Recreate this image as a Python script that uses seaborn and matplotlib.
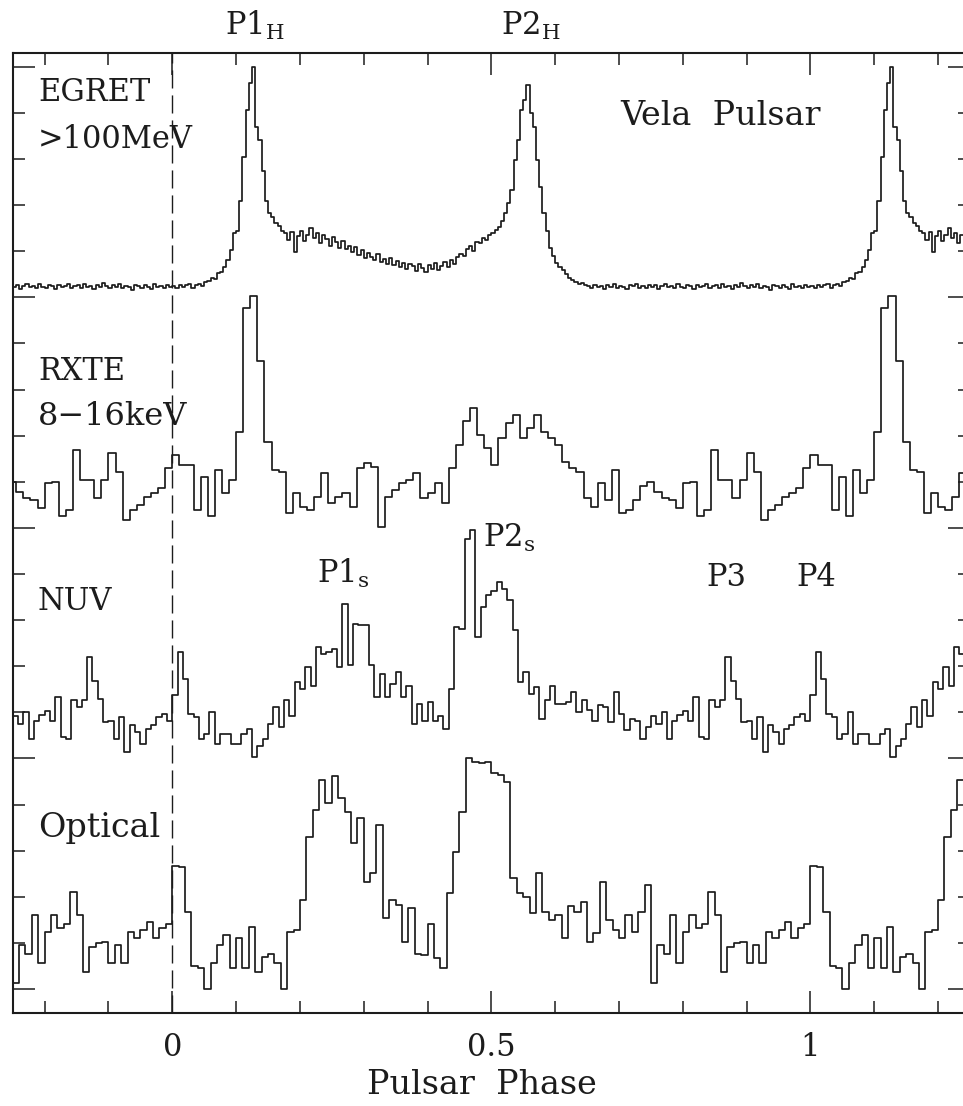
import numpy as np
import pandas as pd
import matplotlib
matplotlib.use("Agg")
import matplotlib.pyplot as plt
from matplotlib.ticker import MultipleLocator, FixedLocator, FixedFormatter
import seaborn as sns

# Pulse profiles of the Vela pulsar, one rotation each (phase 0 -> 1),
# in units of the minor y tick. Bin i covers phase [i/N, (i+1)/N).
egret = [
    0.24, 0.21, 0.27, 0.22, 0.26, 0.28, 0.20, 0.27,
    0.30, 0.25, 0.33, 0.36,
    0.42, 0.40, 0.52, 0.55, 0.65, 0.80, 1.02, 1.39, 1.45, 2.10, 3.04, 4.06, 4.64, 4.99,
    3.70, 3.41, 2.75, 2.10, 1.82, 1.75, 1.61, 1.55, 1.45,
    1.39, 1.25, 1.42, 0.98, 1.33, 1.45, 1.22, 1.36, 1.50, 1.28,
    1.40, 1.18, 1.35, 1.26, 1.12, 1.30, 1.20, 1.08, 1.22, 1.05,
    1.12, 0.98, 1.10, 0.92, 1.02, 0.85, 0.96, 0.88, 0.80, 0.93,
    0.76, 0.84, 0.72, 0.86, 0.70, 0.78, 0.66, 0.75, 0.62, 0.73,
    0.68, 0.58, 0.72, 0.64, 0.55, 0.70, 0.62, 0.74, 0.60, 0.69,
    0.76, 0.66, 0.80, 0.72, 0.88,
    0.95, 0.90, 1.05, 1.12, 1.00, 1.20, 1.17, 1.28, 1.24, 1.35,
    1.39, 1.46, 1.52, 1.65, 1.82, 2.05, 2.32, 2.97, 3.41, 4.06,
    4.27, 4.60, 3.99, 3.69, 2.97, 2.39, 1.82, 1.45, 1.08, 0.90,
    0.74, 0.66, 0.59, 0.50, 0.43, 0.38, 0.34, 0.30, 0.32, 0.27,
    0.24, 0.20, 0.27, 0.22, 0.25, 0.19, 0.26, 0.23, 0.28, 0.21,
    0.25, 0.22, 0.18, 0.26, 0.24, 0.29, 0.21, 0.25, 0.20, 0.27,
    0.23, 0.26, 0.19, 0.24, 0.28, 0.22, 0.25, 0.21, 0.30, 0.23,
    0.20, 0.26, 0.24, 0.18, 0.27, 0.22, 0.25, 0.29, 0.21, 0.24,
    0.26, 0.20, 0.28, 0.23, 0.25, 0.19, 0.27, 0.22, 0.31, 0.24,
    0.21, 0.26, 0.23, 0.28, 0.20, 0.25, 0.22, 0.17, 0.27, 0.24,
    0.21, 0.26, 0.23, 0.19, 0.28, 0.22, 0.25, 0.20, 0.27, 0.23,
]

rxte = [
    1.58, 1.37, 1.37, 0.39, 1.11, 0.25, 1.26, 0.75, 1.04, 2.09,
    4.76, 5.02, 3.61, 1.87, 1.26, 1.22, 0.32, 0.75, 0.46, 0.39,
    0.68, 1.19, 0.54, 0.68, 0.75, 0.46, 1.29, 1.40, 1.33, 0.03,
    0.68, 0.82, 0.97, 1.04, 1.19, 0.64, 0.75, 0.97, 0.54, 1.29,
    1.80, 2.31, 2.60, 2.02, 1.73, 1.37, 1.94, 2.27, 2.45, 1.94,
    2.16, 2.45, 2.09, 1.94, 1.80, 1.44, 1.29, 1.22, 0.64, 0.46,
    0.97, 0.61, 1.26, 0.32, 0.39, 0.61, 0.90, 1.00, 0.79, 0.64,
    0.61, 0.43, 0.97, 1.00, 0.25, 0.39, 1.69, 1.04, 1.04, 0.64,
    1.04, 1.62, 1.22, 0.17, 0.39, 0.50, 0.68, 0.75, 0.86, 1.29,
]

nuv = [
    1.37, 2.31, 1.73, 0.97, 0.90, 0.43, 0.54, 1.00, 0.32, 0.54,
    0.54, 0.32, 0.32, 0.54, 0.64, 0.03, 0.28, 0.43, 0.75, 1.11,
    0.68, 1.26, 0.93, 1.66, 1.51, 1.98, 1.58, 2.41, 2.27, 2.31,
    2.38, 1.98, 3.36, 2.02, 2.92, 2.89, 2.89, 2.02, 1.33, 1.84,
    1.33, 1.62, 1.87, 1.33, 1.58, 0.75, 1.19, 0.82, 1.22, 0.82,
    0.93, 0.64, 1.51, 2.85, 2.81, 4.76, 4.95, 2.63,
    3.28, 3.54, 3.64, 3.82, 3.68, 3.43, 2.78, 1.66, 1.87, 1.40,
    1.55, 0.86, 1.26, 1.58, 1.19, 1.19, 1.22, 1.44, 1.00, 1.26,
    1.05, 0.82, 1.15, 1.11, 0.79, 1.44, 0.97, 0.61, 0.86, 0.82,
    0.43, 0.68, 0.93, 0.75, 1.00, 0.43, 0.82, 0.95, 1.04, 0.82,
    1.33, 0.46, 0.43, 1.26, 1.11, 1.26, 2.20,
    1.69, 1.29, 0.79, 0.82, 0.43, 0.90, 0.14, 0.72, 0.57, 0.32,
    0.64, 0.72, 0.90, 0.97, 0.82,
]

optical = [
    2.67, 2.64, 1.66, 0.50, 0.45, 0.00, 0.56, 0.95, 1.17, 0.45,
    1.10, 0.45, 1.35, 0.38, 0.70, 0.77, 0.56, 0.00, 1.24, 1.28,
    1.93, 3.30, 3.88, 4.53, 4.03, 4.61, 4.14, 3.85, 3.16, 3.70,
    2.33, 2.51, 3.56, 1.53, 1.93, 1.82, 1.03, 1.75, 0.77, 0.74,
    1.42, 0.67, 0.45, 2.08, 2.98, 3.85, 5.00, 4.93, 4.90, 4.93,
    4.68, 4.64, 4.50, 2.40, 2.08, 2.00, 1.64, 2.51, 1.68, 1.50,
    1.61, 1.10, 1.79, 1.68, 1.89, 1.03, 1.21, 2.33, 1.50, 1.28,
    1.10, 1.61, 1.24, 1.68, 2.26, 0.12, 0.95, 0.77, 1.61, 0.56,
    1.24, 1.61, 1.32, 1.42, 2.11, 1.61, 0.38, 0.92, 0.99, 1.03,
    0.56, 0.95, 0.56, 1.24, 1.10, 1.28, 1.46, 1.10, 1.32, 1.42,
]

band_names = ["EGRET", "RXTE", "NUV", "Optical"]
band_profiles = [egret, rxte, nuv, optical]
band_offsets = [15, 10, 5, 0]
band_labels = [["EGRET", ">100MeV"], ["RXTE", "8\u221216keV"], ["NUV"], ["Optical"]]

phase_min, phase_max = -0.25, 1.25
x_major = [0, 0.5, 1]
x_ticklabels = ["0", "0.5", "1"]


def unwrap_cycle(values, lo, hi):
    """Repeat a one-rotation profile over the phase window [lo, hi]."""
    n = len(values)
    k = np.arange(int(np.floor(lo * n)), int(np.ceil(hi * n)) + 1)
    return k / n, np.asarray(values)[k % n]


frames = []
for name, prof, off in zip(band_names, band_profiles, band_offsets):
    ph, lv = unwrap_cycle(prof, phase_min, phase_max)
    frames.append(pd.DataFrame({"band": name, "phase": ph, "level": lv + off}))
curves = pd.concat(frames, ignore_index=True)

sns.set_style("ticks")
plt.rcParams["font.family"] = ["DejaVu Serif"]
plt.rcParams["mathtext.fontset"] = "dejavuserif"

FS = 22
FS_WIDE = 24
ink = "#1c1c1c"

fig = plt.figure(figsize=(9.63, 11.06), dpi=100)
ax = fig.add_axes([12.7 / 963, 93 / 1106, 957.3 / 963, 960 / 1106])

for name in band_names:
    sns.lineplot(data=curves[curves["band"] == name], x="phase", y="level",
                 ax=ax, color=ink, lw=1.25, drawstyle="steps-post",
                 estimator=None, sort=False, legend=False)

ax.axvline(0, color=ink, lw=1.0, linestyle=(0, (13, 5)))

ax.set_xlim(phase_min, phase_max)
ax.set_ylim(-0.52, 20.30)

ax.xaxis.set_major_locator(FixedLocator(x_major))
ax.xaxis.set_major_formatter(FixedFormatter(x_ticklabels))
ax.xaxis.set_minor_locator(MultipleLocator(0.1))
ax.yaxis.set_major_locator(MultipleLocator(5))
ax.yaxis.set_minor_locator(MultipleLocator(1))
ax.set_yticklabels([])

ax.tick_params(which="both", direction="in", top=True, right=True,
               color=ink, width=1.1)
ax.tick_params(which="major", length=16)
ax.tick_params(which="minor", length=8.5)
ax.tick_params(axis="x", which="major", labelsize=FS, pad=14, labelcolor=ink)
ax.tick_params(axis="y", which="both", labelleft=False)

for sp in ax.spines.values():
    sp.set_linewidth(1.5)
    sp.set_color(ink)

ax.set_xlabel("Pulsar  Phase", fontsize=FS_WIDE, color=ink)
ax.xaxis.set_label_coords(0.4902, -0.058)
ax.set_ylabel("")

# Instrument names in the upper left of each band
label_x = -0.2105
label_rows = {
    "EGRET": [(19.25, FS), (18.24, FS)],
    "RXTE": [(13.21, FS), (12.23, 23)],
    "NUV": [(8.22, FS)],
    "Optical": [(3.29, FS_WIDE)],
}
for name, lines in zip(band_names, band_labels):
    for text, (yb, fs) in zip(lines, label_rows[name]):
        ax.text(label_x, yb, text, fontsize=fs, color=ink, ha="left", va="baseline")

ax.text(0.7017, 18.74, "Vela  Pulsar", fontsize=FS_WIDE, color=ink,
        ha="left", va="baseline")

# Peak names
peak_labels = [
    (0.0826, 20.69, r"P1$_{\mathrm{H}}$"),
    (0.5147, 20.69, r"P2$_{\mathrm{H}}$"),
    (0.2263, 8.80, r"P1$_{\mathrm{s}}$"),
    (0.4870, 9.59, r"P2$_{\mathrm{s}}$"),
    (0.8376, 8.73, "P3"),
    (0.9776, 8.73, "P4"),
]
for px, py, text in peak_labels:
    ax.text(px, py, text, fontsize=FS, color=ink, ha="left", va="baseline",
            clip_on=False)

fig.savefig("out.png", dpi=100)
